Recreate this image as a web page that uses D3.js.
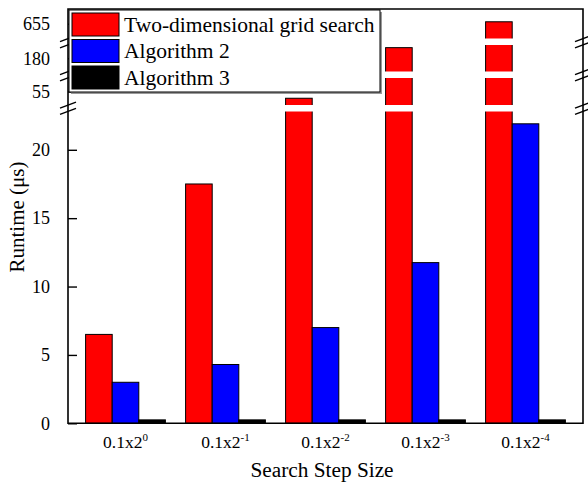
<!DOCTYPE html>
<html>
<head>
<meta charset="utf-8">
<script src="https://cdn.jsdelivr.net/npm/d3@7"></script>
<style>
  html, body { margin: 0; padding: 0; background: #fff; }
  svg { display: block; font-family: "Liberation Serif", "Times New Roman", serif; }
</style>
</head>
<body>
<svg id="chart" width="588" height="488"></svg>
<script>
// Runtime of three step-size search methods
const categories = ["0", "-1", "-2", "-3", "-4"];          // exponents of 0.1x2^k
const seriesNames = ["Two-dimensional grid search", "Algorithm 2", "Algorithm 3"];
const gridSearch = [6.5, 17.5, 50, 192, 657];
const algorithm2 = [3.0, 4.3, 7.0, 11.75, 21.9];
const algorithm3 = [0.25, 0.25, 0.25, 0.25, 0.25];
const seriesColors = ["#ff0000", "#0000ff", "#000000"];

// broken y axis: value ranges of each stacked segment and their ticks
const segmentDomains = [[0, 22.8], [45, 65], [165, 195], [640, 670]];
const segmentTicks = [[0, 5, 10, 15, 20], [55], [180], [655]];

const svg = d3.select("#chart");
const plotL = 68, plotR = 583, plotT = 9, plotB = 423.3;
const segmentPixels = [[plotB, 111.5], [105, 78], [71.5, 45], [38.5, plotT]];

const segments = segmentDomains.map((d, i) =>
  d3.scaleLinear().domain(d).range(segmentPixels[i]));

function y(v) {
  for (let i = 0; i < segments.length; i++) {
    if (v <= segmentDomains[i][1] || i === segments.length - 1) {
      return segments[i](Math.max(v, segmentDomains[i][0]));
    }
  }
}

const x = d3.scalePoint().domain(categories).range([plotL, plotR]).padding(0.575);
const barW = 26.6;
const sub = d3.scaleBand().domain(d3.range(3)).range([-1.5 * barW, 1.5 * barW]);

const series = [gridSearch, algorithm2, algorithm3];

// bars
const g = svg.append("g");
series.forEach((vals, si) => {
  g.selectAll(null).data(vals).enter().append("rect")
    .attr("x", (d, i) => x(categories[i]) + sub(si))
    .attr("width", sub.bandwidth())
    .attr("y", d => y(d))
    .attr("height", d => plotB - y(d))
    .attr("fill", seriesColors[si])
    .attr("stroke", "#000")
    .attr("stroke-width", 1);
});

// white bands through the bars where the axis is broken
const breaks = segmentPixels.slice(1).map((p, i) => [p[0], segmentPixels[i][1]]);
breaks.forEach(b => {
  svg.append("rect")
    .attr("x", plotL + 1).attr("width", plotR - plotL - 2)
    .attr("y", b[0]).attr("height", b[1] - b[0])
    .attr("fill", "#fff");
});

// frame
svg.append("path")
  .attr("d", `M${plotL},${plotT}H${plotR}V${plotB}H${plotL}Z`)
  .attr("fill", "none").attr("stroke", "#000").attr("stroke-width", 1.6);

// y ticks and labels per segment
segmentTicks.forEach((ticks, si) => {
  const ax = d3.axisLeft(segments[si]).tickValues(ticks).tickSizeInner(-9).tickSizeOuter(0).tickPadding(18);
  const ag = svg.append("g").attr("transform", `translate(${plotL},0)`).call(ax);
  ag.select(".domain").remove();
  ag.selectAll("line").attr("stroke", "#000").attr("stroke-width", 1.4);
  ag.selectAll("text").attr("font-size", 18).attr("fill", "#000")
    .attr("font-family", "Liberation Serif");
});

// break marks on both vertical axes
breaks.forEach(b => {
  const cy = (b[0] + b[1]) / 2;
  [plotL, plotR].forEach(cx => {
    [-3.2, 3.2].forEach(off => {
      svg.append("line")
        .attr("x1", cx - 8).attr("y1", cy + off + 3)
        .attr("x2", cx + 8).attr("y2", cy + off - 3)
        .attr("stroke", "#000").attr("stroke-width", 1.4);
    });
  });
});

// x labels 0.1x2^k
const xl = svg.append("g");
categories.forEach(c => {
  const t = xl.append("text")
    .attr("x", x(c)).attr("y", 448)
    .attr("text-anchor", "middle").attr("font-size", 17.5);
  t.append("tspan").text("0.1x2");
  t.append("tspan").attr("dy", -7).attr("font-size", 11).text(c);
});

// axis titles
svg.append("text")
  .attr("x", 322).attr("y", 477)
  .attr("text-anchor", "middle").attr("font-size", 21.3)
  .text("Search Step Size");
svg.append("text")
  .attr("transform", "translate(24,217) rotate(-90)")
  .attr("text-anchor", "middle").attr("font-size", 21)
  .text("Runtime (\u03bcs)");

// legend
const lg = svg.append("g");
lg.append("rect").attr("x", 71).attr("y", 12).attr("width", 311).attr("height", 82).attr("fill", "#999");
lg.append("rect").attr("x", 69).attr("y", 10).attr("width", 311).attr("height", 82)
  .attr("fill", "#fff").attr("stroke", "#000").attr("stroke-width", 1);
seriesNames.forEach((name, i) => {
  const cy = 24.5 + i * 26.5;
  lg.append("rect").attr("x", 72).attr("y", cy - 11.5).attr("width", 47).attr("height", 23)
    .attr("fill", seriesColors[i]).attr("stroke", "#000").attr("stroke-width", 1);
  lg.append("text").attr("x", 124).attr("y", cy + 7)
    .attr("font-size", 21.5).text(name);
});
</script>
</body>
</html>
